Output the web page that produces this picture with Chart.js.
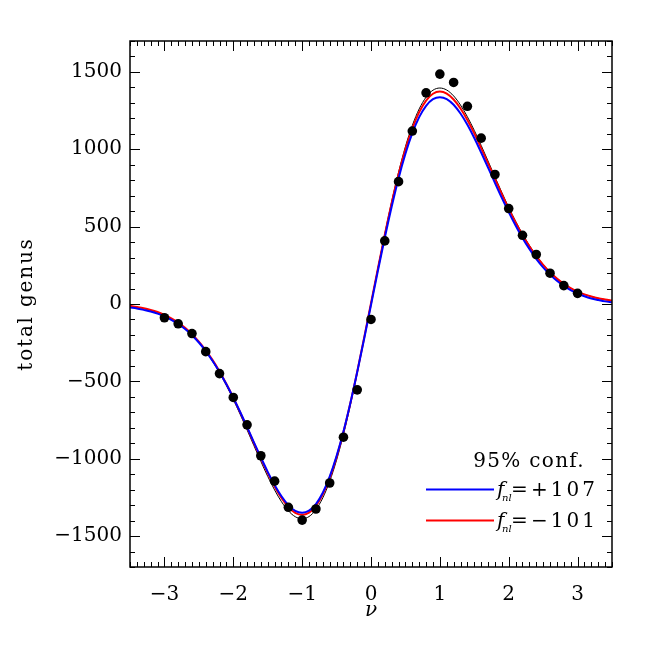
<!DOCTYPE html>
<html>
<head>
<meta charset="utf-8">
<title>total genus</title>
<script src="https://cdn.jsdelivr.net/npm/chart.js@4.4.1/dist/chart.umd.min.js"></script>
<style>
  html, body { margin: 0; padding: 0; background: #fff; }
  canvas { display: block; }
</style>
</head>
<body>
<canvas id="genus" width="650" height="650"></canvas>
<script>
// threshold values where the model curves are sampled
const nuGrid = [
  -3.5, -3.4, -3.3, -3.2, -3.1, -3.0, -2.9, -2.8, -2.7, -2.6, -2.5, -2.4, -2.3, -2.2, -2.1,
  -2.0, -1.9, -1.8, -1.7, -1.6, -1.5, -1.4, -1.3, -1.2, -1.1, -1.0, -0.9, -0.8, -0.7, -0.6,
  -0.5, -0.4, -0.3, -0.2, -0.1, 0.0, 0.1, 0.2, 0.3, 0.4, 0.5, 0.6, 0.7, 0.8, 0.9,
  1.0, 1.1, 1.2, 1.3, 1.4, 1.5, 1.6, 1.7, 1.8, 1.9, 2.0, 2.1, 2.2, 2.3, 2.4,
  2.5, 2.6, 2.7, 2.8, 2.9, 3.0, 3.1, 3.2, 3.3, 3.4, 3.5
];
// gaussian model (thin black)
const genusBlack = [
  -14, -20, -29, -40, -54, -72, -95, -124, -158, -199, -248, -305, -371, -445, -527,
  -617, -713, -813, -916, -1017, -1114, -1202, -1278, -1337, -1375, -1388, -1374, -1329, -1253, -1146,
  -1009, -843, -654, -446, -224, 4, 232, 454, 662, 851, 1017, 1154, 1261, 1337, 1382,
  1396, 1383, 1345, 1286, 1210, 1122, 1025, 924, 821, 721, 625, 535, 453, 379, 313,
  256, 207, 166, 132, 103, 80, 62, 48, 37, 28, 22
];
// f_nl = +107
const genusBlue = [
  -23, -29, -38, -48, -62, -80, -102, -129, -162, -202, -249, -304, -368, -439, -519,
  -606, -698, -795, -894, -991, -1085, -1170, -1243, -1300, -1337, -1349, -1336, -1293, -1220, -1116,
  -983, -824, -641, -440, -226, -6, 214, 428, 629, 812, 971, 1104, 1208, 1281, 1324,
  1337, 1325, 1288, 1231, 1158, 1073, 979, 882, 783, 686, 594, 507, 427, 356, 292,
  237, 190, 150, 117, 90, 68, 50, 36, 26, 17, 11
];
// f_nl = -101
const genusRed = [
  -12, -19, -27, -38, -52, -70, -93, -120, -154, -195, -243, -299, -363, -436, -517,
  -605, -700, -798, -899, -998, -1093, -1180, -1254, -1312, -1350, -1363, -1349, -1305, -1230, -1125,
  -990, -828, -642, -437, -219, 5, 229, 447, 652, 838, 1000, 1135, 1240, 1315, 1359,
  1373, 1360, 1322, 1264, 1190, 1103, 1008, 909, 808, 710, 615, 527, 446, 373, 309,
  253, 205, 164, 130, 103, 80, 62, 48, 37, 29, 22
];
// measured genus (black dots)
const nuObs = [
  -3.0, -2.8, -2.6, -2.4, -2.2, -2.0, -1.8, -1.6, -1.4, -1.2, -1.0, -0.8, -0.6, -0.4, -0.2,
  0.0, 0.2, 0.4, 0.6, 0.8, 1.0, 1.2, 1.4, 1.6, 1.8, 2.0, 2.2, 2.4, 2.6, 2.8, 3.0
];
const genusObs = [
  -89, -128, -191, -308, -450, -604, -781, -981, -1145, -1314, -1397, -1325, -1157, -861, -555,
  -100, 408, 791, 1118, 1365, 1486, 1432, 1278, 1072, 837, 617, 444, 320, 199, 119, 69
];

const xTicks = [-3, -2, -1, 0, 1, 2, 3];
const yTicks = [-1500, -1000, -500, 0, 500, 1000, 1500];
const yTitle = 'total genus';
const confLabel = '95% conf.';
const fnlValues = ['+107', '\u2212101'];

const serif = 'DejaVu Serif';

function pairs(xs, ys) {
  return xs.map((x, i) => ({ x: x, y: ys[i] }));
}

function minus(v) {
  return String(v).replace('-', '\u2212');
}

// IDL style box: inward major/minor ticks on all four sides
const frameTicks = {
  id: 'frameTicks',
  afterDatasetsDraw(chart) {
    const { ctx, chartArea: a, scales: { x, y } } = chart;
    ctx.save();
    ctx.strokeStyle = '#000';
    ctx.lineWidth = 1;
    ctx.beginPath();
    for (let i = -35; i <= 35; i++) {
      const px = Math.round(x.getPixelForValue(i / 10)) + 0.5;
      const len = i % 10 === 0 ? 10 : 5;
      ctx.moveTo(px, a.bottom);
      ctx.lineTo(px, a.bottom - len);
      ctx.moveTo(px, a.top);
      ctx.lineTo(px, a.top + len);
    }
    for (let v = -1700; v <= 1700; v += 100) {
      const py = Math.round(y.getPixelForValue(v)) + 0.5;
      const len = v % 500 === 0 ? 10 : 5;
      ctx.moveTo(a.left, py);
      ctx.lineTo(a.left + len, py);
      ctx.moveTo(a.right, py);
      ctx.lineTo(a.right - len, py);
    }
    ctx.stroke();
    ctx.lineWidth = 1.5;
    ctx.strokeRect(a.left, a.top, a.right - a.left, a.bottom - a.top);
    ctx.restore();
  }
};

// y title and the little conf. legend, spaced out like the IDL font
const labels = {
  id: 'labels',
  afterDraw(chart) {
    const { ctx, chartArea: a } = chart;
    ctx.save();
    ctx.fillStyle = '#000';
    ctx.textBaseline = 'alphabetic';

    ctx.save();
    ctx.translate(32, (a.top + a.bottom) / 2);
    ctx.rotate(-Math.PI / 2);
    ctx.font = '20px "' + serif + '"';
    ctx.letterSpacing = '1.8px';
    ctx.textAlign = 'center';
    ctx.fillText(yTitle, 0, 0);
    ctx.restore();

    ctx.font = '20px "' + serif + '"';
    ctx.letterSpacing = '1.3px';
    ctx.textAlign = 'right';
    ctx.fillText(confLabel, 585, 467);

    const rows = [
      { color: '#0000ff', y: 489.5, base: 496, text: fnlValues[0] },
      { color: '#ff0000', y: 520.5, base: 527, text: fnlValues[1] }
    ];
    rows.forEach(r => {
      ctx.strokeStyle = r.color;
      ctx.lineWidth = 2;
      ctx.beginPath();
      ctx.moveTo(426, r.y);
      ctx.lineTo(494, r.y);
      ctx.stroke();
      ctx.letterSpacing = '0px';
      ctx.textAlign = 'left';
      ctx.font = 'italic 20px "' + serif + '"';
      ctx.fillText('f', 497, r.base);
      ctx.font = 'italic 10px "' + serif + '"';
      ctx.fillText('nl', 502, r.base + 5);
      ctx.font = '20px "' + serif + '"';
      ctx.fillText('=', 511, r.base);
      ctx.letterSpacing = '3px';
      ctx.textAlign = 'right';
      ctx.fillText(r.text, 598, r.base);
    });
    ctx.restore();
  }
};

Chart.defaults.color = '#000';
Chart.defaults.font.family = serif;

new Chart(document.getElementById('genus'), {
  type: 'scatter',
  data: {
    datasets: [
      {
        label: 'gaussian',
        data: pairs(nuGrid, genusBlack),
        showLine: true,
        borderColor: '#000',
        borderWidth: 1,
        pointRadius: 0,
        cubicInterpolationMode: 'monotone',
        order: 4
      },
      {
        label: 'fnl -101',
        data: pairs(nuGrid, genusRed),
        showLine: true,
        borderColor: '#ff0000',
        borderWidth: 2,
        pointRadius: 0,
        cubicInterpolationMode: 'monotone',
        order: 3
      },
      {
        label: 'fnl +107',
        data: pairs(nuGrid, genusBlue),
        showLine: true,
        borderColor: '#0000ff',
        borderWidth: 2,
        pointRadius: 0,
        cubicInterpolationMode: 'monotone',
        order: 2
      },
      {
        label: 'measured',
        data: pairs(nuObs, genusObs),
        showLine: false,
        pointRadius: 4.8,
        pointBackgroundColor: '#000',
        pointBorderWidth: 0,
        order: 1
      }
    ]
  },
  options: {
    responsive: false,
    animation: false,
    layout: { padding: { top: 41, right: 38, bottom: 0, left: 0 } },
    plugins: {
      legend: { display: false },
      tooltip: { enabled: false }
    },
    scales: {
      x: {
        type: 'linear',
        min: -3.5,
        max: 3.5,
        afterFit: s => { s.height = 83; },
        afterBuildTicks: s => { s.ticks = xTicks.map(v => ({ value: v })); },
        grid: { display: false, drawTicks: false },
        border: { display: false },
        ticks: {
          padding: 16,
          maxRotation: 0,
          font: { size: 20 },
          callback: v => minus(v)
        },
        title: {
          display: true,
          text: '\u03bd',
          font: { size: 20, style: 'italic' },
          padding: { top: 0, bottom: 27 }
        }
      },
      y: {
        type: 'linear',
        min: -1700,
        max: 1700,
        afterFit: s => { s.width = 130; },
        afterBuildTicks: s => { s.ticks = yTicks.map(v => ({ value: v })); },
        grid: { display: false, drawTicks: false },
        border: { display: false },
        ticks: {
          padding: 8,
          font: { size: 20 },
          callback: v => minus(v)
        }
      }
    }
  },
  plugins: [frameTicks, labels]
});
</script>
</body>
</html>
